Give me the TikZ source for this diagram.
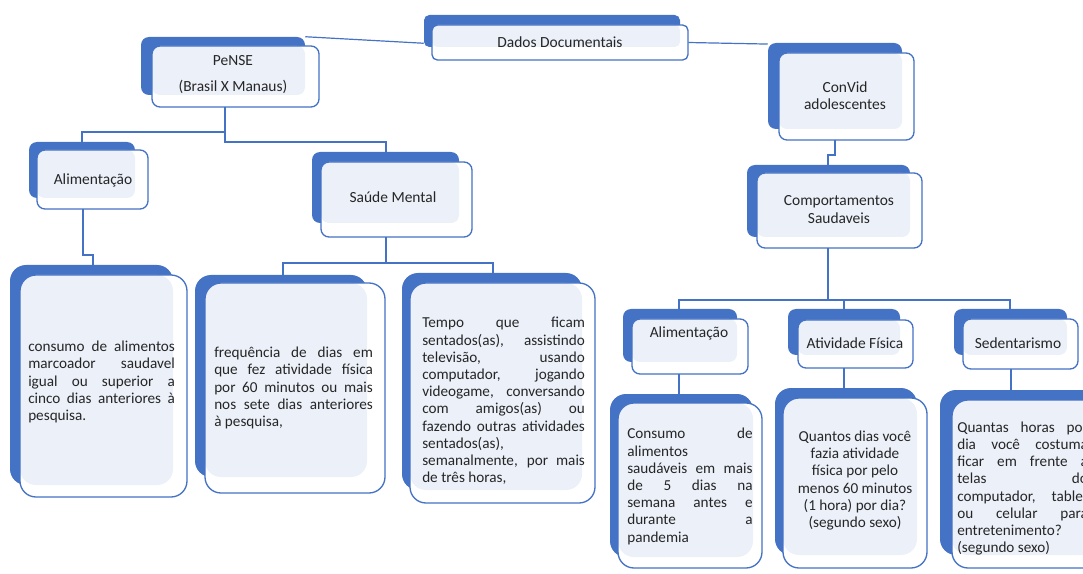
\documentclass[tikz,border=0pt]{standalone}
\usepackage{fontspec}
\setmainfont{Carlito}
\usetikzlibrary{fit}
\definecolor{bblue}{HTML}{4472C4}
\definecolor{lblue}{HTML}{EBF0F9}
\definecolor{txt}{HTML}{262626}
\hbadness=10000
\newcommand\jfont{\fontsize{11.4}{12.9}\selectfont\hyphenpenalty=10000\relax\exhyphenpenalty=10000\relax\tolerance=10000\relax}
\newcommand\dbox[9]{%
 \fill[bblue, rounded corners=\R] (#2,#3) rectangle (#4,#5);
 \fill[white, rounded corners=\R] (#6,#7) rectangle (#8,#9);
 \fill[lblue, rounded corners=\R] (#6,#7) rectangle (#4,#5);
 \draw[bblue, line width=1pt, rounded corners=\R] (#6,#7) rectangle (#8,#9);
 \node[fit={(#2,#3)(#4,#5)}, inner sep=0pt] (#1-b) {};
 \node[fit={(#6,#7)(#8,#9)}, inner sep=0pt] (#1) {};
}
\begin{document}
\begin{tikzpicture}[x=0.75pt, y=-0.75pt,
  conn/.style={draw=bblue, line width=0.9pt},
  lbl/.style={font=\fontsize{11.6}{13}\selectfont, text=txt, inner sep=0pt, align=center},
  body/.style={font=\jfont, text=txt, inner sep=0pt, align=justify, anchor=west},
  bodyc/.style={font=\fontsize{11.4}{12.9}\selectfont, text=txt, inner sep=0pt, align=center}]
\path[use as bounding box] (0,0) rectangle (1083,574);
\clip (0,0) rectangle (1083,574);

% ---- boxes ----
\def\R{4pt}
\dbox{dd}{424}{15}{680}{47}{432}{25}{688}{60}
\def\R{6pt}
\dbox{pense}{141}{37}{305}{95}{152}{46}{319}{107}
\dbox{convid}{768}{43}{902}{129}{779}{53}{914}{140}
\dbox{comp}{747}{165}{910}{237}{757}{173}{922}{248}
\dbox{alimL}{29}{142}{135}{198}{37}{150}{148}{209}
\dbox{saude}{312}{152}{459}{223}{321}{162}{472}{237}
\dbox{alimR}{623}{309}{737}{362}{632}{319}{748}{374}
\dbox{ativ}{788}{309}{900}{355}{798}{320}{913}{368}
\dbox{sed}{954}{309}{1067}{355}{963}{319}{1078}{369}
\def\R{12pt}
\dbox{consL}{10}{265}{173}{485}{20}{275}{187}{497}
\dbox{freq}{195}{275}{367}{477}{205}{283}{385}{493}
\dbox{tempo}{402}{273}{582}{490}{410}{283}{595}{503}
\dbox{consR}{610}{394}{753}{557}{618}{403}{762}{568}
\dbox{quant}{775}{388}{917}{555}{783}{398}{927}{568}
\dbox{qh}{940}{390}{1110}{555}{952}{400}{1120}{568}

% ---- labels ----
\node[lbl] (t-dd) at (560,42) {Dados Documentais};
\node[lbl] (t-pense) at (233,74.5) {PeNSE\\[6pt](Brasil X Manaus)};
\node[lbl] (t-convid) at (845,95.5) {ConVid\\adolescentes};
\node[lbl] (t-comp) at (839,209.5) {Comportamentos\\Saudaveis};
\node[lbl] (t-alimL) at (93,180) {Alimentação};
\node[lbl] (t-saude) at (393,197) {Saúde Mental};
\node[lbl] (t-alimR) at (689,333) {Alimentação};
\node[lbl] (t-ativ) at (855,343) {Atividade Física};
\node[lbl] (t-sed) at (1018,343) {Sedentarismo};

\node[body, text width=110pt] (t-consL) at (28,382) {consumo de alimentos\linebreak marcoador saudavel\linebreak igual ou superior a\linebreak cinco dias anteriores à\linebreak pesquisa.};
\node[body, text width=119pt] (t-freq) at (214,388) {frequência de dias em\linebreak que fez atividade física\linebreak por 60 minutos ou mais\linebreak nos sete dias anteriores\linebreak à pesquisa,};
\node[body, text width=122pt] (t-tempo) at (422,401) {Tempo que ficam\linebreak sentados(as), assistindo\linebreak televisão, usando\linebreak computador, jogando\linebreak videogame, conversando\linebreak com amigos(as) ou\linebreak fazendo outras atividades\linebreak sentados(as),\\ semanalmente, por mais\linebreak de três horas,};
\node[body, text width=94pt] (t-consR) at (627,486.5) {Consumo de\linebreak alimentos\linebreak saudáveis em mais\linebreak de 5 dias na\linebreak semana antes e\linebreak durante a\linebreak pandemia};
\node[bodyc] (t-quant) at (855,480.5) {Quantos dias você\\fazia atividade\\física por pelo\\menos 60 minutos\\(1 hora) por dia?\\(segundo sexo)};
\node[body, text width=98pt] (t-qh) at (957,488.5) {Quantas horas por\linebreak dia você costuma\linebreak ficar em frente a\linebreak telas do\linebreak computador, tablet\linebreak ou celular para\linebreak entretenimento?\\ (segundo sexo)};

% ---- connectors ----
\draw[conn] (pense-b.north east) -- ([yshift=3pt]dd-b.south west);
\draw[conn] (dd.east) -- ([yshift=-1pt]convid-b.north west);

\coordinate (c1) at (835,155);
\coordinate (c2) at (828,155);
\draw[conn] (c1 |- convid.south) -- (c1) -- (c2) -- (c2 |- comp-b.north);

\coordinate (h0) at (828,300);
\coordinate (hL) at (679,300);
\coordinate (hM) at (844,300);
\coordinate (hR) at (1010,300);
\draw[conn] (h0 |- comp.south) -- (h0);
\draw[conn] (hL |- alimR-b.north) -- (hL) -- (hR) -- (hR |- sed-b.north);
\draw[conn] (hM) -- (hM |- ativ-b.north);

\coordinate (r1) at (679,0);
\coordinate (r2) at (844,0);
\coordinate (r3) at (1011,0);
\draw[conn] (r1 |- alimR.south) -- (r1 |- consR-b.north);
\draw[conn] (r2 |- ativ.south) -- (r2 |- quant-b.north);
\draw[conn] (r3 |- sed.south) -- (r3 |- qh-b.north);

\coordinate (p1) at (225,132);
\coordinate (p2) at (82,132);
\coordinate (p3) at (225,142);
\coordinate (p4) at (386,142);
\draw[conn] (p1 |- pense.south) -- (p3) -- (p4) -- (p4 |- saude-b.north);
\draw[conn] (p1) -- (p2) -- (p2 |- alimL-b.north);

\coordinate (a1) at (83,255);
\coordinate (a2) at (93,255);
\draw[conn] (a1 |- alimL.south) -- (a1) -- (a2) -- (a2 |- consL-b.north);

\coordinate (s1) at (386,263);
\coordinate (s2) at (283,263);
\coordinate (s3) at (493,263);
\draw[conn] (s1 |- saude.south) -- (s1);
\draw[conn] (s2 |- freq-b.north) -- (s2) -- (s3) -- (s3 |- tempo-b.north);
\end{tikzpicture}
\end{document}
